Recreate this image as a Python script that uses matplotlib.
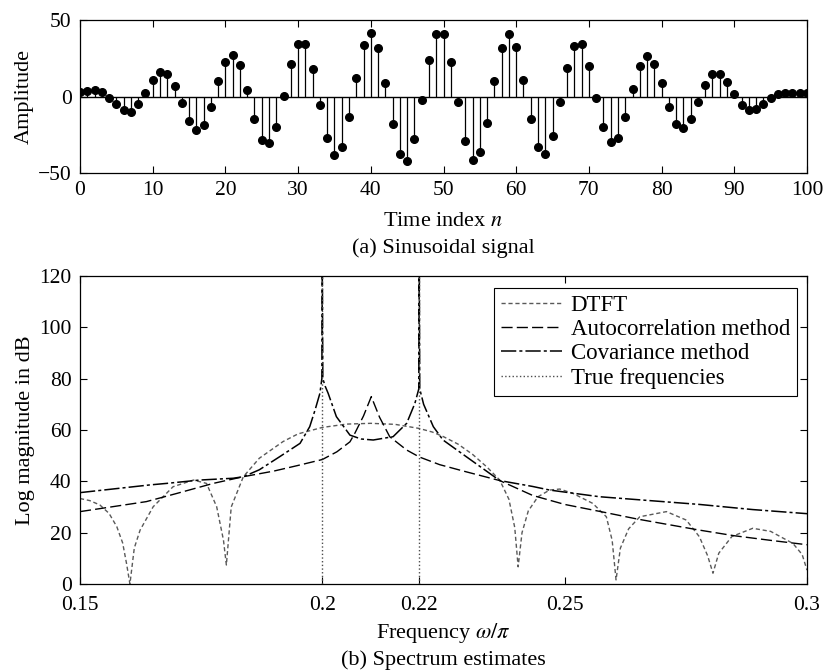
import numpy as np
import matplotlib.pyplot as plt

plt.rcParams.update({
    'font.family': 'Liberation Serif',
    'mathtext.fontset': 'stix',
    'font.size': 15,
    'axes.linewidth': 0.9,
})

# (a) sinusoidal signal
n = np.arange(0, 101)
amp = [2.9, 3.5, 4, 3, -1, -5, -9, -10, -5, 2.4,
       10.5, 16, 15, 7, -4.4, -16, -22, -18.4, -6.6, 10,
       22.6, 27.4, 20.4, 4, -15, -28.5, -30.7, -19.7, 0.2, 21.5,
       34.6, 34.2, 17.8, -5.5, -27.4, -38, -33, -13.6, 11.8, 33.5,
       41.2, 32, 8.8, -18, -37.7, -42, -27.9, -2.2, 24, 40.8,
       40.8, 22.6, -3.7, -29, -41.7, -36.6, -17, 10, 32, 40.8,
       32.5, 10.5, -14.5, -33, -37.7, -26, -3.7, 18.9, 33, 34,
       20.2, -0.9, -19.7, -30, -27.2, -13.2, 5, 20, 26.3, 21.5,
       8.8, -6.6, -18, -20.8, -14.7, -3.3, 7.7, 14.5, 14.5, 9.4,
       1.8, -5.3, -8.8, -8.1, -4.8, -1.1, 1.8, 2.6, 2.6, 2.6, 2.6]

# (b) spectrum estimates (frequency in units of pi, magnitude in dB)
dtft_f = [0.150, 0.152, 0.1541, 0.156, 0.1576, 0.1588, 0.1596, 0.1603, 0.1612, 0.1624,
          0.1651, 0.1692, 0.1734, 0.1761, 0.1782, 0.1796, 0.1802, 0.1812, 0.1837, 0.187,
          0.1919, 0.195, 0.200, 0.205, 0.210, 0.215, 0.220, 0.2227, 0.225, 0.228,
          0.231, 0.234, 0.2366, 0.2385, 0.2397, 0.2404, 0.2412, 0.2425, 0.2445, 0.2469,
          0.249, 0.2517, 0.2558, 0.2586, 0.2598, 0.2606, 0.2615, 0.2632, 0.2655, 0.271,
          0.2751, 0.2778, 0.2795, 0.2806, 0.2818, 0.2845, 0.2888, 0.2925, 0.2971, 0.2990,
          0.300]
dtft_db = [33.3, 32.5, 30.8, 27.5, 22.3, 16, 8, 0, 14, 21,
           30.1, 37.9, 40.5, 39.2, 30.1, 17.1, 7.4, 30, 41.8, 49,
           55.5, 58.5, 61, 62.3, 62.6, 62.2, 60.6, 59.2, 57.4, 54.5,
           50.5, 45.5, 40.5, 33, 22, 6.7, 20, 28.5, 34, 36.6,
           37, 35.3, 31.4, 26.2, 17, 1.6, 14, 21.5, 26.2, 28.2,
           24.9, 18.4, 11, 4.2, 12, 18.5, 21.7, 20.5, 15.8, 11.5,
           5.4]

acorr_f = [0.150, 0.1637, 0.170, 0.1775, 0.1837, 0.190, 0.195, 0.200, 0.203, 0.2057,
           0.2067, 0.2085, 0.2101, 0.2118, 0.2139, 0.2174, 0.220, 0.2242, 0.2297, 0.2366,
           0.2434, 0.250, 0.2572, 0.265, 0.2778, 0.285, 0.2925, 0.300]
acorr_db = [28.2, 32.1, 35.3, 39.2, 41.8, 44.0, 46.2, 48.5, 51.5, 55.4,
            58.7, 65.5, 73.0, 65.0, 57.4, 52.2, 49.5, 46.5, 43.7, 40.3,
            34.5, 31.0, 28.3, 25.3, 21.0, 18.8, 17.0, 15.3]

cov_f = [0.150, 0.1644, 0.1679, 0.1747, 0.1816, 0.1837, 0.187, 0.1912, 0.1954, 0.1974,
         0.1985, 0.1995, 0.1999, 0.2000, 0.2001, 0.2006, 0.2012, 0.2029, 0.2057, 0.2080,
         0.2105, 0.2146, 0.2174, 0.2191, 0.2199, 0.2200, 0.2201, 0.2209, 0.2229, 0.2249,
         0.2297, 0.2366, 0.2434, 0.2469, 0.2572, 0.2778, 0.2888, 0.300]
cov_db = [35.6, 38.6, 39.2, 40.5, 41.2, 41.8, 44.5, 49.6, 54.8, 61.3,
          67.8, 74.3, 80, 125, 80, 77, 74.3, 65.2, 58.0, 56.5,
          56.1, 57.4, 62.6, 70.4, 76, 125, 76, 70, 61.3, 56.1,
          49.6, 40.3, 38.0, 36.6, 34.0, 31.0, 29.0, 27.4]

true_freqs = [0.2, 0.22]
freq_ticks = [0.15, 0.2, 0.22, 0.25, 0.3]
freq_labels = ['0.15', '0.2', '0.22', '0.25', '0.3']

W, H = 824, 671
def box(l, t, r, b):
    return [l / W, 1 - b / H, (r - l) / W, (b - t) / H]

fig = plt.figure(figsize=(W / 100, H / 100), dpi=100)
ax1 = fig.add_axes(box(80, 20, 807, 173))
ax2 = fig.add_axes(box(80, 276, 807, 584))

for ax in (ax1, ax2):
    ax.tick_params(direction='in', top=True, right=True, length=5, width=0.8,
                   labelsize=15.5, pad=6)
ax2.tick_params(axis='x', pad=9)

# top panel: stem plot
markers, stems, base = ax1.stem(n, amp, linefmt='k-', markerfmt='ko', basefmt='k-')
markers.set_markersize(5.5)
stems.set_linewidth(0.9)
base.set_linewidth(1.0)
ax1.set_xlim(0, 100)
ax1.set_ylim(-50, 50)
ax1.set_xticks(range(0, 101, 10))
ax1.set_yticks([-50, 0, 50])
ax1.set_ylabel('Amplitude', fontsize=16, labelpad=3)

fig.text(443 / W, 1 - 222 / H, 'Time index $n$', ha='center', va='center', fontsize=16)
fig.text(443 / W, 1 - 248 / H, '(a) Sinusoidal signal', ha='center', va='center', fontsize=16)

# bottom panel: spectra
ax2.plot(dtft_f, dtft_db, color='0.35', lw=1.0, ls=(0, (3, 2)), label='DTFT')
ax2.plot(acorr_f, acorr_db, color='k', lw=1.0, ls=(0, (8, 3)), label='Autocorrelation method')
ax2.plot(cov_f, cov_db, color='k', lw=1.1, ls=(0, (10, 2, 2, 2)), label='Covariance method')
for i, f in enumerate(true_freqs):
    ax2.plot([f, f], [0, 120], color='0.3', lw=1.0, ls=':',
             label='True frequencies' if i == 0 else None)

ax2.set_xlim(0.15, 0.3)
ax2.set_ylim(0, 120)
ax2.set_xticks(freq_ticks)
ax2.set_xticklabels(freq_labels)
ax2.set_yticks(range(0, 121, 20))
ax2.set_ylabel('Log magnitude in dB', fontsize=16, labelpad=3)

leg = ax2.legend(loc='upper right', bbox_to_anchor=(797 / W, 1 - 288 / H),
                 bbox_transform=fig.transFigure, fontsize=16.5, frameon=True,
                 fancybox=False, edgecolor='k', framealpha=1, handlelength=2.65,
                 labelspacing=0.14, handletextpad=0.4, borderpad=0.3,
                 borderaxespad=0)
leg.get_frame().set_linewidth(0.8)

fig.text(443 / W, 1 - 633 / H, r'Frequency $\omega/\pi$', ha='center', va='center', fontsize=16)
fig.text(443 / W, 1 - 660 / H, '(b) Spectrum estimates', ha='center', va='center', fontsize=16)

fig.savefig('out.png', dpi=100)
